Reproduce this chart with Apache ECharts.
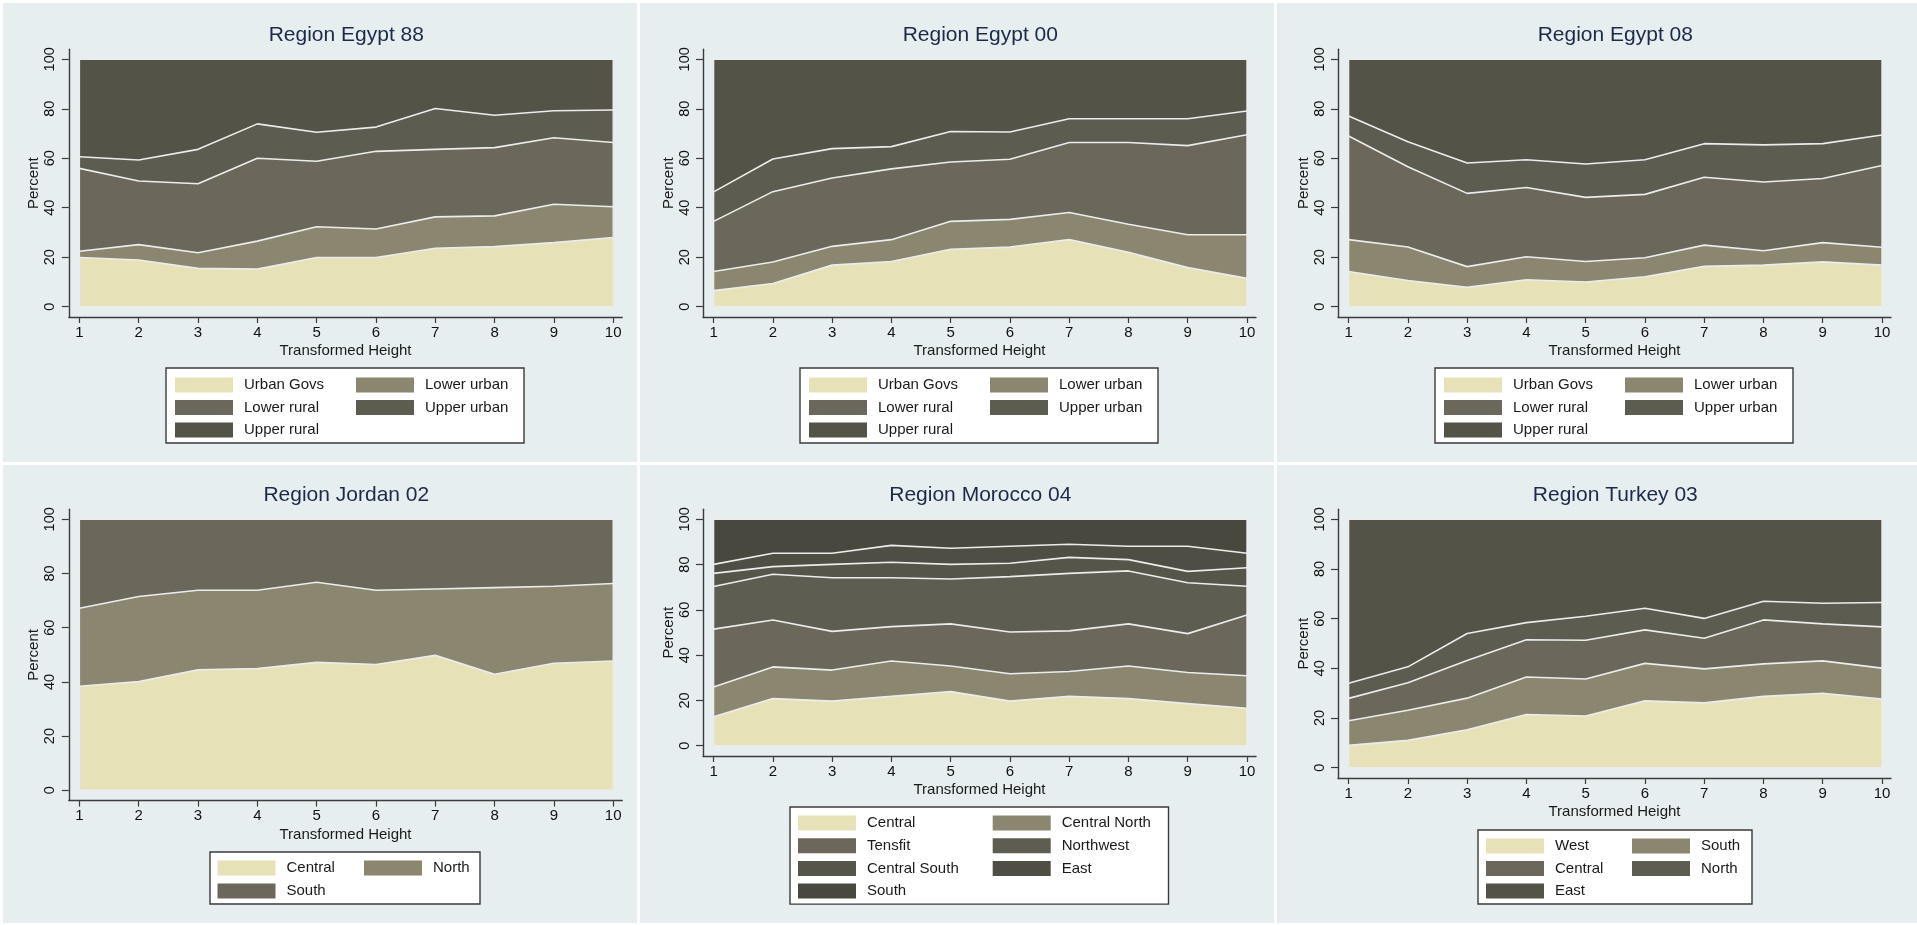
<!DOCTYPE html>
<html>
<head>
<meta charset="utf-8">
<title>Regional composition by transformed height</title>
<script src="https://cdn.jsdelivr.net/npm/echarts@6/dist/echarts.min.js"></script>
<style>
  html, body { margin: 0; padding: 0; background: #ffffff; }
  #chart { width: 1917px; height: 925px; }
</style>
</head>
<body>
<div id="chart"></div>
<script>
// ---- categories and ticks ----
const heights = [1, 2, 3, 4, 5, 6, 7, 8, 9, 10];
const percentTicks = [0, 20, 40, 60, 80, 100];

// ---- Egypt (three survey years) ----
const egyptGroups = ['Urban Govs', 'Lower urban', 'Lower rural', 'Upper urban', 'Upper rural'];

const egypt88UrbanGovs  = [19.9, 18.9, 15.5, 15.2, 19.9, 19.9, 23.6, 24.3, 25.9, 28.0];
const egypt88LowerUrban = [2.5, 6.2, 6.3, 11.3, 12.4, 11.5, 12.7, 12.4, 15.5, 12.4];
const egypt88LowerRural = [33.5, 25.7, 27.9, 33.5, 26.5, 31.4, 27.3, 27.6, 26.9, 26.0];
const egypt88UpperUrban = [4.7, 8.5, 13.9, 13.9, 11.7, 9.8, 16.5, 13.1, 10.9, 13.1];
const egypt88UpperRural = [39.4, 40.7, 36.4, 26.1, 29.5, 27.4, 19.9, 22.6, 20.8, 20.5];

const egypt00UrbanGovs  = [6.5, 9.4, 16.8, 18.3, 23.2, 24.1, 27.1, 22.0, 15.8, 11.5];
const egypt00LowerUrban = [7.7, 8.7, 7.6, 8.8, 11.3, 11.2, 11.0, 11.3, 13.3, 17.6];
const egypt00LowerRural = [20.3, 28.4, 27.6, 28.6, 24.0, 24.3, 28.3, 33.1, 36.0, 40.4];
const egypt00UpperUrban = [11.9, 13.2, 11.9, 9.0, 12.3, 11.0, 9.6, 9.6, 10.9, 9.6];
const egypt00UpperRural = [53.6, 40.3, 36.1, 35.3, 29.2, 29.4, 24.0, 24.0, 24.0, 20.9];

const egypt08UrbanGovs  = [14.2, 10.6, 7.8, 10.9, 10.0, 12.1, 16.3, 16.8, 18.1, 16.8];
const egypt08LowerUrban = [12.9, 13.5, 8.4, 9.3, 8.3, 7.7, 8.6, 5.8, 7.8, 7.2];
const egypt08LowerRural = [41.9, 32.5, 29.6, 28.0, 25.9, 25.6, 27.4, 27.8, 25.9, 33.1];
const egypt08UpperUrban = [8.1, 10.1, 12.3, 11.2, 13.5, 14.0, 13.6, 15.0, 14.1, 12.3];
const egypt08UpperRural = [22.9, 33.3, 41.9, 40.6, 42.3, 40.6, 34.1, 34.6, 34.1, 30.6];

// ---- Jordan 2002 ----
const jordanGroups  = ['Central', 'North', 'South'];
const jordanCentral = [38.4, 40.1, 44.5, 44.9, 47.2, 46.4, 49.8, 42.8, 46.9, 47.7];
const jordanNorth   = [28.8, 31.4, 29.3, 28.9, 29.6, 27.4, 24.5, 32.0, 28.4, 28.6];
const jordanSouth   = [32.8, 28.5, 26.2, 26.2, 23.2, 26.2, 25.7, 25.2, 24.7, 23.7];

// ---- Morocco 2004 ----
const moroccoGroups       = ['Central', 'Central North', 'Tensfit', 'Northwest', 'Central South', 'East', 'South'];
const moroccoCentral      = [12.8, 20.8, 19.7, 21.8, 23.9, 19.7, 21.8, 20.8, 18.6, 16.5];
const moroccoCentralNorth = [13.1, 14.0, 13.7, 15.6, 11.3, 12.1, 11.0, 14.4, 13.7, 14.4];
const moroccoTensfit      = [25.6, 20.7, 17.1, 15.2, 18.6, 18.4, 17.9, 18.6, 17.2, 26.8];
const moroccoNorthwest    = [18.8, 20.2, 23.7, 21.6, 19.8, 24.5, 25.4, 23.4, 22.5, 12.7];
const moroccoCentralSouth = [5.8, 3.4, 5.9, 6.8, 6.5, 5.9, 7.1, 5.0, 5.0, 8.2];
const moroccoEast         = [4.0, 5.9, 4.9, 7.5, 7.1, 7.5, 5.8, 5.9, 11.1, 6.4];
const moroccoSouth        = [19.9, 15.0, 15.0, 11.5, 12.8, 11.9, 11.0, 11.9, 11.9, 15.0];

// ---- Turkey 2003 ----
const turkeyGroups  = ['West', 'South', 'Central', 'North', 'East'];
const turkeyWest    = [9.0, 11.0, 15.3, 21.4, 20.8, 26.9, 26.1, 28.7, 30.0, 27.6];
const turkeySouth   = [9.9, 12.1, 12.7, 15.1, 14.9, 15.1, 13.7, 13.1, 13.0, 12.5];
const turkeyCentral = [9.0, 11.1, 15.2, 15.0, 15.6, 13.5, 12.3, 17.7, 14.9, 16.6];
const turkeyNorth   = [6.1, 6.4, 10.8, 6.9, 9.7, 8.7, 8.0, 7.5, 8.3, 9.8];
const turkeyEast    = [66.0, 59.4, 46.0, 41.6, 39.0, 35.8, 39.9, 33.0, 33.8, 33.5];

// ---- fills (bottom band first) ----
const fiveShades    = ['#e7e1b7', '#8a8670', '#6b685b', '#5d5c50', '#545347'];
const threeShades   = ['#e7e1b7', '#8a8670', '#6b685b'];
const sevenShades   = ['#e7e1b7', '#8a8670', '#6b685b', '#5e5d51', '#56554a', '#4f4e44', '#49483f'];

const panels = [
  { title: 'Region Egypt 88',   groups: egyptGroups,   shades: fiveShades,
    values: [egypt88UrbanGovs, egypt88LowerUrban, egypt88LowerRural, egypt88UpperUrban, egypt88UpperRural] },
  { title: 'Region Egypt 00',   groups: egyptGroups,   shades: fiveShades,
    values: [egypt00UrbanGovs, egypt00LowerUrban, egypt00LowerRural, egypt00UpperUrban, egypt00UpperRural] },
  { title: 'Region Egypt 08',   groups: egyptGroups,   shades: fiveShades,
    values: [egypt08UrbanGovs, egypt08LowerUrban, egypt08LowerRural, egypt08UpperUrban, egypt08UpperRural] },
  { title: 'Region Jordan 02',  groups: jordanGroups,  shades: threeShades,
    values: [jordanCentral, jordanNorth, jordanSouth] },
  { title: 'Region Morocco 04', groups: moroccoGroups, shades: sevenShades,
    values: [moroccoCentral, moroccoCentralNorth, moroccoTensfit, moroccoNorthwest, moroccoCentralSouth, moroccoEast, moroccoSouth] },
  { title: 'Region Turkey 03',  groups: turkeyGroups,  shades: fiveShades,
    values: [turkeyWest, turkeySouth, turkeyCentral, turkeyNorth, turkeyEast] }
];

// ---- page layout (pixels) ----
// x0/x1: where the first/last height sits; y100/y0: where 100% / 0% sit.
const layouts = [
  { x0: 79.4,   x1: 613.2, y100: 59.3,  y0: 306.7, legend: { left: 166,  top: 368, textWidth: 105.5, gap: 6.5, pad: [9, -6.5, 5, 9],   maxW: 360 } },
  { x0: 713.6,  x1: 1247,  y100: 59.3,  y0: 306.7, legend: { left: 800,  top: 368, textWidth: 105.5, gap: 6.5, pad: [9, -6.5, 5, 9],   maxW: 360 } },
  { x0: 1348.6, x1: 1882,  y100: 59.3,  y0: 306.7, legend: { left: 1435, top: 368, textWidth: 105.5, gap: 6.5, pad: [9, -6.5, 5, 9],   maxW: 360 } },
  { x0: 79.4,   x1: 613.2, y100: 519.3, y0: 790.3, legend: { left: 210,  top: 852, textWidth: 70.5,  gap: 7,   pad: [8, -23.5, 5, 7.5], maxW: 300 } },
  { x0: 713.6,  x1: 1247,  y100: 519.3, y0: 745.7, legend: { left: 790,  top: 807, textWidth: 119,   gap: 6.7, pad: [8, -12.2, 5, 8],   maxW: 400 } },
  { x0: 1348.6, x1: 1882,  y100: 519.3, y0: 767.7, legend: { left: 1478, top: 830, textWidth: 70.5,  gap: 6.5, pad: [8, -19.5, 5, 8],   maxW: 300 } }
];
const panelBoxes = [
  [3, 3, 634, 459], [640, 3, 634, 459], [1277, 3, 640, 459],
  [3, 465, 634, 458], [640, 465, 634, 458], [1277, 465, 640, 458]
];
const titleRows = [35, 35, 35, 495, 495, 495];

const FONT = '"Liberation Sans", Arial, Helvetica, sans-serif';
const AXIS_COLOR = '#3c3c3c';
const EDGE_COLOR = '#ececec';
const PAD_LEFT = 10.6, PAD_RIGHT = 9, PAD_TOP = 10, PAD_BOTTOM = 10.3;

const option = {
  animation: false,
  backgroundColor: '#ffffff',
  graphic: panelBoxes.map(b => ({
    type: 'rect', z: -10, silent: true,
    shape: { x: b[0], y: b[1], width: b[2], height: b[3] },
    style: { fill: '#e6eef0' }
  })),
  title: [], grid: [], xAxis: [], yAxis: [], legend: [], series: []
};

const firstH = heights[0], lastH = heights[heights.length - 1];
const lowP = percentTicks[0], highP = percentTicks[percentTicks.length - 1];

panels.forEach((panel, p) => {
  const L = layouts[p];
  const pxPerX = (L.x1 - L.x0) / (lastH - firstH);
  const pxPerY = (L.y0 - L.y100) / (highP - lowP);
  const gridLeft = L.x0 - PAD_LEFT, gridRight = L.x1 + PAD_RIGHT;
  const gridTop = L.y100 - PAD_TOP, gridBottom = L.y0 + PAD_BOTTOM;

  option.title.push({
    text: panel.title,
    left: (L.x0 + L.x1) / 2, top: titleRows[p],
    textAlign: 'center', textVerticalAlign: 'middle', padding: 0,
    textStyle: { fontFamily: FONT, fontSize: 21, fontWeight: 'normal', color: '#1d2a47' }
  });

  option.grid.push({
    left: gridLeft, top: gridTop,
    width: gridRight - gridLeft, height: gridBottom - gridTop,
    containLabel: false
  });

  option.xAxis.push({
    type: 'value', gridIndex: p,
    min: firstH - PAD_LEFT / pxPerX, max: lastH + PAD_RIGHT / pxPerX,
    name: 'Transformed Height', nameLocation: 'middle', nameGap: 26.5,
    nameTextStyle: { fontFamily: FONT, fontSize: 15, color: '#1a1a1a' },
    axisLine: { show: true, onZero: false, lineStyle: { color: AXIS_COLOR, width: 1.4 } },
    axisTick: { show: true, customValues: heights, length: 6, lineStyle: { color: AXIS_COLOR, width: 1.2 } },
    axisLabel: { customValues: heights, margin: 8, fontFamily: FONT, fontSize: 15, color: '#111111' },
    splitLine: { show: false }
  });

  option.yAxis.push({
    type: 'value', gridIndex: p,
    min: lowP - PAD_BOTTOM / pxPerY, max: highP + PAD_TOP / pxPerY,
    name: 'Percent', nameLocation: 'middle', nameGap: 27, nameRotate: 90,
    nameTextStyle: { fontFamily: FONT, fontSize: 15, color: '#1a1a1a' },
    axisLine: { show: true, onZero: false, lineStyle: { color: AXIS_COLOR, width: 1.4 } },
    axisTick: { show: true, customValues: percentTicks, length: 7, lineStyle: { color: AXIS_COLOR, width: 1.2 } },
    axisLabel: { customValues: percentTicks, rotate: 90, margin: 11, fontFamily: FONT, fontSize: 14.5, color: '#111111' },
    splitLine: { show: false }
  });

  const tag = '#' + p;
  const n = panel.groups.length;

  // running totals: each band is filled from its upper boundary down to 0,
  // lower bands are painted over higher ones
  const running = heights.map(() => 0);
  panel.values.forEach((vals, k) => {
    const upper = vals.map((v, i) => (running[i] += v));
    option.series.push({
      type: 'line', name: panel.groups[k] + tag,
      xAxisIndex: p, yAxisIndex: p,
      data: heights.map((h, i) => [h, +upper[i].toFixed(2)]),
      symbol: 'none', silent: true,
      z: 3 + (n - k),
      lineStyle: { color: EDGE_COLOR, width: 1.6 },
      itemStyle: { color: panel.shades[k] },
      areaStyle: { color: panel.shades[k], opacity: 1, origin: lowP }
    });
  });

  // light outline round the plotted band
  option.series.push({
    type: 'line', name: 'frame' + tag,
    xAxisIndex: p, yAxisIndex: p,
    data: [[firstH, lowP], [firstH, highP], [lastH, highP], [lastH, lowP], [firstH, lowP]],
    symbol: 'none', silent: true, z: 30,
    lineStyle: { color: EDGE_COLOR, width: 1.4 }
  });

  const lg = L.legend;
  option.legend.push({
    left: lg.left, top: lg.top, width: lg.maxW,
    orient: 'horizontal', align: 'left',
    padding: lg.pad,
    itemGap: lg.gap, itemWidth: 58, itemHeight: 15,
    icon: 'rect', selectedMode: false,
    backgroundColor: '#ffffff', borderColor: '#3a3a3a', borderWidth: 1.4, borderRadius: 0,
    formatter: name => name.split('#')[0],
    textStyle: {
      fontFamily: FONT, fontSize: 15, color: '#1a1a1a',
      width: lg.textWidth, lineHeight: 16, padding: [0, 0, 0, 6]
    },
    data: panel.groups.map((g, k) => ({
      name: g + tag,
      itemStyle: { color: panel.shades[k], borderWidth: 0 }
    }))
  });
});

const chart = echarts.init(document.getElementById('chart'), null, { renderer: 'canvas' });
chart.setOption(option);
</script>
</body>
</html>
